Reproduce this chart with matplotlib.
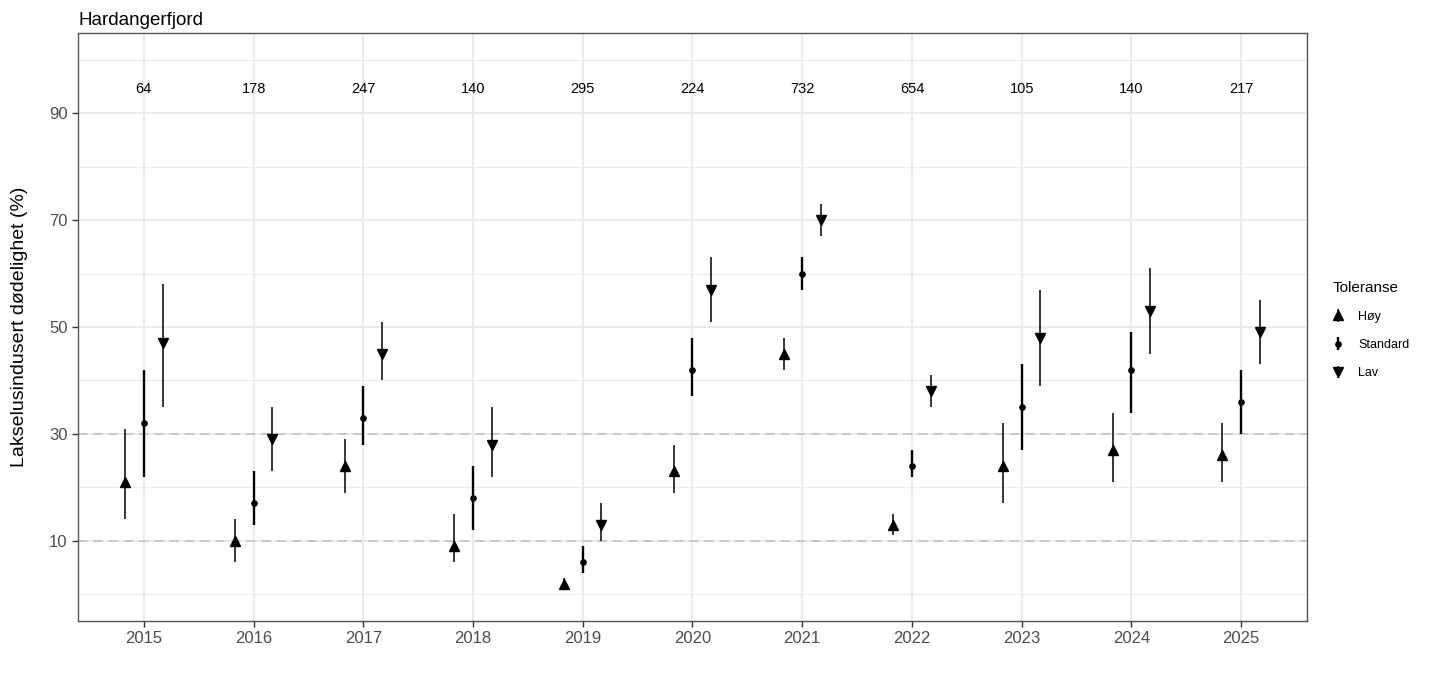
import matplotlib
matplotlib.use('Agg')
import matplotlib.pyplot as plt
import numpy as np

plt.rcParams['font.family'] = ['Liberation Sans', 'DejaVu Sans']

# data
years = [2015, 2016, 2017, 2018, 2019, 2020, 2021, 2022, 2023, 2024, 2025]
n_fish = [64, 178, 247, 140, 295, 224, 732, 654, 105, 140, 217]

hoy = [21, 10, 24, 9, 2, 23, 45, 13, 24, 27, 26]
hoy_lo = [14, 6, 19, 6, 1, 19, 42, 11, 17, 21, 21]
hoy_hi = [31, 14, 29, 15, 3, 28, 48, 15, 32, 34, 32]

std = [32, 17, 33, 18, 6, 42, 60, 24, 35, 42, 36]
std_lo = [22, 13, 28, 12, 4, 37, 57, 22, 27, 34, 30]
std_hi = [42, 23, 39, 24, 9, 48, 63, 27, 43, 49, 42]

lav = [47, 29, 45, 28, 13, 57, 70, 38, 48, 53, 49]
lav_lo = [35, 23, 40, 22, 10, 51, 67, 35, 39, 45, 43]
lav_hi = [58, 35, 51, 35, 17, 63, 73, 41, 57, 61, 55]

fig = plt.figure(figsize=(14.37, 6.96), dpi=100)
ax = fig.add_axes([0.0543, 0.1078, 0.8552, 0.8448])

x = np.array(years, dtype=float)

def pointrange(xpos, y, lo, hi, marker, ms, lw, label):
    y = np.array(y)
    err = [y - np.array(lo), np.array(hi) - y]
    ax.errorbar(xpos, y, yerr=err, fmt=marker, color='black', ms=ms,
                elinewidth=lw, capsize=0, label=label, zorder=3)

pointrange(x - 0.17, hoy, hoy_lo, hoy_hi, '^', 7, 1.1, 'Høy')
pointrange(x, std, std_lo, std_hi, 'o', 3.8, 1.7, 'Standard')
pointrange(x + 0.17, lav, lav_lo, lav_hi, 'v', 7, 1.1, 'Lav')

# reference lines
for yref in [10, 30]:
    ax.axhline(yref, color='#BEBEBE', lw=1.1, ls=(0, (6, 4)), zorder=1)

# sample sizes on top
for yr, n in zip(years, n_fish):
    ax.text(yr, 94.5, str(n), ha='center', va='center', fontsize=10.5)

ax.set_xlim(2014.4, 2025.6)
ax.set_ylim(-5, 105)
ax.set_xticks(years)
ax.set_yticks([10, 30, 50, 70, 90])
ax.set_yticks([0, 20, 40, 60, 80, 100], minor=True)
ax.tick_params(axis='both', which='major', labelsize=12, labelcolor='#4D4D4D',
               color='#333333', length=4, width=1)
ax.tick_params(axis='y', which='minor', length=0)
ax.grid(True, which='major', color='#EBEBEB', lw=1.4, zorder=0)
ax.grid(True, which='minor', axis='y', color='#EBEBEB', lw=0.8, zorder=0)
ax.set_axisbelow(True)
for s in ax.spines.values():
    s.set_color('#555555')
    s.set_linewidth(1)

ax.set_ylabel('Lakselusindusert dødelighet (%)', fontsize=14, labelpad=15)
ax.set_title('Hardangerfjord', loc='left', fontsize=13.5, pad=6)

leg = ax.legend(title='Toleranse', loc='center left', bbox_to_anchor=(1.012, 0.495),
                frameon=False, fontsize=9, title_fontsize=11, handlelength=0.8,
                handletextpad=1.2, labelspacing=1.3)
leg._legend_box.align = 'left'

fig.savefig('out.png', dpi=100)
